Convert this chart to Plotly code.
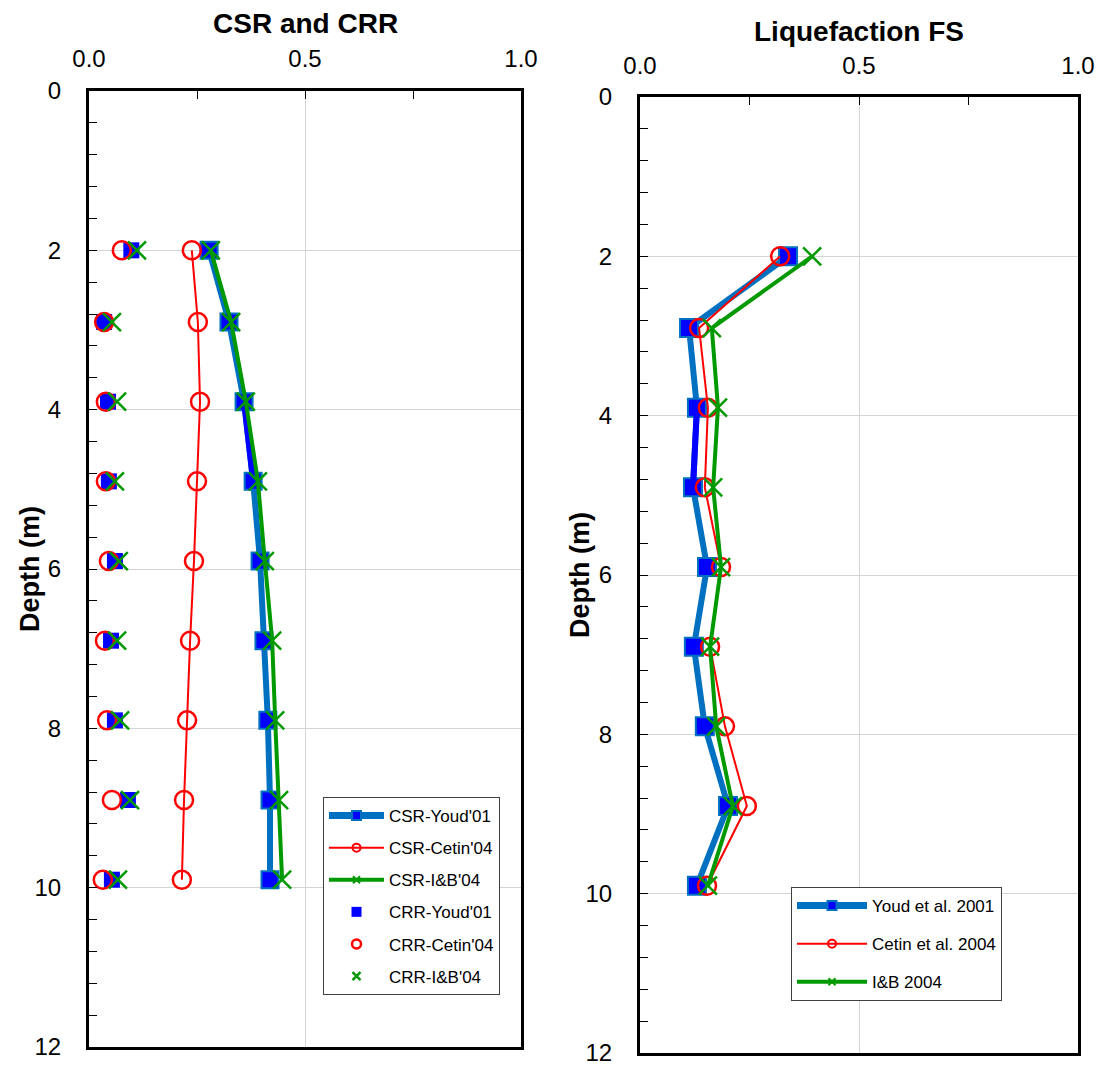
import plotly.graph_objects as go

# ---------------- data ----------------
depth = [2.0, 2.9, 3.9, 4.9, 5.9, 6.9, 7.9, 8.9, 9.9]

csr_youd = [0.278, 0.324, 0.359, 0.380, 0.396, 0.405, 0.414, 0.419, 0.419]
csr_cetin = [0.238, 0.252, 0.257, 0.250, 0.243, 0.234, 0.227, 0.220, 0.215]
csr_ib = [0.282, 0.329, 0.363, 0.391, 0.407, 0.424, 0.431, 0.440, 0.447]

crr_youd = [0.098, 0.035, 0.044, 0.046, 0.060, 0.051, 0.060, 0.090, 0.053]
crr_cetin = [0.076, 0.035, 0.039, 0.039, 0.046, 0.037, 0.042, 0.053, 0.032]
crr_ib = [0.111, 0.053, 0.065, 0.060, 0.069, 0.065, 0.072, 0.095, 0.067]

fs_youd = [0.338, 0.112, 0.130, 0.121, 0.153, 0.123, 0.148, 0.201, 0.130]
fs_cetin = [0.320, 0.135, 0.155, 0.148, 0.185, 0.160, 0.194, 0.244, 0.153]
fs_ib = [0.393, 0.164, 0.178, 0.167, 0.185, 0.160, 0.174, 0.212, 0.155]

left_names = ["CSR-Youd'01", "CSR-Cetin'04", "CSR-I&B'04", "CRR-Youd'01", "CRR-Cetin'04", "CRR-I&B'04"]
right_names = ["Youd et al. 2001", "Cetin et al. 2004", "I&B 2004"]

x_ticks = [0.0, 0.5, 1.0]
x_tick_text = ["0.0", "0.5", "1.0"]
y_ticks = [0, 2, 4, 6, 8, 10, 12]

# ---------------- styles ----------------
STEEL = "#0070C0"
BLUE = "#0000FF"
RED = "#FF0000"
GREEN = "#009A00"
FONT = "Liberation Sans, Arial, sans-serif"
W, H = 1101, 1066

fig = go.Figure()

sq_big = dict(symbol="square", size=17, color=BLUE, line=dict(color=STEEL, width=2))
circ_big = dict(symbol="circle-open", size=18, color=RED, line=dict(color=RED, width=2.5))
x_big = dict(symbol="x-thin", size=18, color=GREEN, line=dict(color=GREEN, width=2.5))

# ---- left panel: CSR and CRR ----
fig.add_trace(go.Scatter(x=csr_youd, y=depth, mode="lines+markers", showlegend=False,
                         line=dict(color=STEEL, width=6), marker=sq_big, xaxis="x", yaxis="y"))
fig.add_trace(go.Scatter(x=csr_youd[2:4], y=depth[2:4], mode="lines", showlegend=False,
                         line=dict(color=BLUE, width=6), xaxis="x", yaxis="y", hoverinfo="skip"))
fig.add_trace(go.Scatter(x=csr_cetin, y=depth, mode="lines+markers", showlegend=False,
                         line=dict(color=RED, width=2), marker=circ_big, xaxis="x", yaxis="y"))
fig.add_trace(go.Scatter(x=csr_ib, y=depth, mode="lines+markers", showlegend=False,
                         line=dict(color=GREEN, width=4), marker=x_big, xaxis="x", yaxis="y"))
fig.add_trace(go.Scatter(x=crr_youd, y=depth, mode="markers", showlegend=False,
                         marker=dict(symbol="square", size=16, color=BLUE, line=dict(width=0)),
                         xaxis="x", yaxis="y"))
fig.add_trace(go.Scatter(x=crr_cetin, y=depth, mode="markers", showlegend=False,
                         marker=circ_big, xaxis="x", yaxis="y"))
fig.add_trace(go.Scatter(x=crr_ib, y=depth, mode="markers", showlegend=False,
                         marker=x_big, xaxis="x", yaxis="y"))

# ---- right panel: Liquefaction FS ----
fig.add_trace(go.Scatter(x=fs_youd, y=depth, mode="lines+markers", showlegend=False,
                         line=dict(color=STEEL, width=6),
                         marker=dict(symbol="square", size=18, color=BLUE, line=dict(color=STEEL, width=2)),
                         xaxis="x2", yaxis="y2"))
fig.add_trace(go.Scatter(x=fs_youd[2:4], y=depth[2:4], mode="lines", showlegend=False,
                         line=dict(color=BLUE, width=6), xaxis="x2", yaxis="y2", hoverinfo="skip"))
fig.add_trace(go.Scatter(x=fs_cetin, y=depth, mode="lines+markers", showlegend=False,
                         line=dict(color=RED, width=2), marker=circ_big, xaxis="x2", yaxis="y2"))
fig.add_trace(go.Scatter(x=fs_ib, y=depth, mode="lines+markers", showlegend=False,
                         line=dict(color=GREEN, width=4), marker=x_big, xaxis="x2", yaxis="y2"))

# ---- legend entries (legend symbols are drawn smaller, as in the source chart) ----
left_legend_styles = [
    dict(mode="lines+markers", line=dict(color=STEEL, width=7),
         marker=dict(symbol="square", size=9, color=BLUE, line=dict(color=STEEL, width=2))),
    dict(mode="lines+markers", line=dict(color=RED, width=2),
         marker=dict(symbol="circle-open", size=8, color=RED, line=dict(color=RED, width=2))),
    dict(mode="lines+markers", line=dict(color=GREEN, width=4),
         marker=dict(symbol="x-thin", size=7, color=GREEN, line=dict(color=GREEN, width=2))),
    dict(mode="markers", marker=dict(symbol="square", size=10, color=BLUE, line=dict(width=0))),
    dict(mode="markers", marker=dict(symbol="circle-open", size=9, color=RED, line=dict(color=RED, width=2.5))),
    dict(mode="markers", marker=dict(symbol="x-thin", size=8, color=GREEN, line=dict(color=GREEN, width=2.5))),
]
for i, (nm, st) in enumerate(zip(left_names, left_legend_styles)):
    fig.add_trace(go.Scatter(x=[None], y=[None], name=nm, legend="legend", legendgroup=f"a{i}",
                             xaxis="x", yaxis="y", hoverinfo="skip", **st))

right_legend_styles = left_legend_styles[:3]
for i, (nm, st) in enumerate(zip(right_names, right_legend_styles)):
    fig.add_trace(go.Scatter(x=[None], y=[None], name=nm, legend="legend2", legendgroup=f"b{i}",
                             xaxis="x2", yaxis="y2", hoverinfo="skip", **st))


def xaxis_cfg(domain, standoff):
    return dict(domain=domain, range=[0, 1], side="top", tickvals=x_ticks, ticktext=x_tick_text,
                showgrid=True, gridcolor="#D4D4D4", gridwidth=1, zeroline=False,
                showline=True, linecolor="black", linewidth=3, mirror=True,
                ticks="inside", ticklen=8, tickwidth=1, tickcolor="black",
                minor=dict(ticks="inside", dtick=0.25, ticklen=8, tickwidth=1, tickcolor="black", showgrid=False),
                tickfont=dict(size=24, color="black", family=FONT), ticklabelstandoff=standoff,
                ticklabeloverflow="allow", fixedrange=True)


def yaxis_cfg(domain, anchor):
    return dict(domain=domain, range=[12, 0], anchor=anchor, tickvals=y_ticks,
                showgrid=True, gridcolor="#D4D4D4", gridwidth=1, zeroline=False,
                showline=True, linecolor="black", linewidth=3, mirror=True,
                ticks="inside", ticklen=8, tickwidth=1, tickcolor="black",
                minor=dict(ticks="inside", dtick=0.4, tick0=0, ticklen=8, tickwidth=1, tickcolor="black", showgrid=False),
                tickfont=dict(size=24, color="black", family=FONT), ticklabelstandoff=20,
                ticklabeloverflow="allow", fixedrange=True)


fig.update_layout(
    width=W, height=H, margin=dict(l=0, r=0, t=0, b=0, autoexpand=False),
    paper_bgcolor="white", plot_bgcolor="white",
    font=dict(family=FONT, color="black"),
    xaxis=dict(xaxis_cfg([89 / W, 521 / W], 11), anchor="y"),
    yaxis=yaxis_cfg([1 - 1047 / H, 1 - 91 / H], "x"),
    xaxis2=dict(xaxis_cfg([640 / W, 1078 / W], 10), anchor="y2"),
    yaxis2=yaxis_cfg([1 - 1053 / H, 1 - 97 / H], "x2"),
    legend=dict(x=323 / W, y=1 - 797 / H, xanchor="left", yanchor="top",
                bgcolor="white", bordercolor="#404040", borderwidth=1,
                font=dict(size=17, family=FONT, color="black"),
                itemwidth=55, tracegroupgap=7, traceorder="grouped", itemsizing="trace"),
    legend2=dict(x=791 / W, y=1 - 887 / H, xanchor="left", yanchor="top",
                 bgcolor="white", bordercolor="#404040", borderwidth=1,
                 font=dict(size=17, family=FONT, color="black"),
                 itemwidth=70, tracegroupgap=13, traceorder="grouped", itemsizing="trace"),
    showlegend=True,
    annotations=[
        dict(text="<b>CSR and CRR</b>", x=305 / W, y=1 - 24 / H, xref="paper", yref="paper",
             xanchor="center", yanchor="middle", showarrow=False, font=dict(size=28, family=FONT)),
        dict(text="<b>Liquefaction FS</b>", x=859 / W, y=1 - 31 / H, xref="paper", yref="paper",
             xanchor="center", yanchor="middle", showarrow=False, font=dict(size=28, family=FONT)),
        dict(text="<b>Depth (m)</b>", x=30 / W, y=1 - 569 / H, xref="paper", yref="paper",
             xanchor="center", yanchor="middle", textangle=-90, showarrow=False, font=dict(size=27, family=FONT)),
        dict(text="<b>Depth (m)</b>", x=580 / W, y=1 - 575 / H, xref="paper", yref="paper",
             xanchor="center", yanchor="middle", textangle=-90, showarrow=False, font=dict(size=27, family=FONT)),
    ],
)

fig.write_html("out.html", config={"displayModeBar": False},
               post_script="document.body.style.margin='0';")
